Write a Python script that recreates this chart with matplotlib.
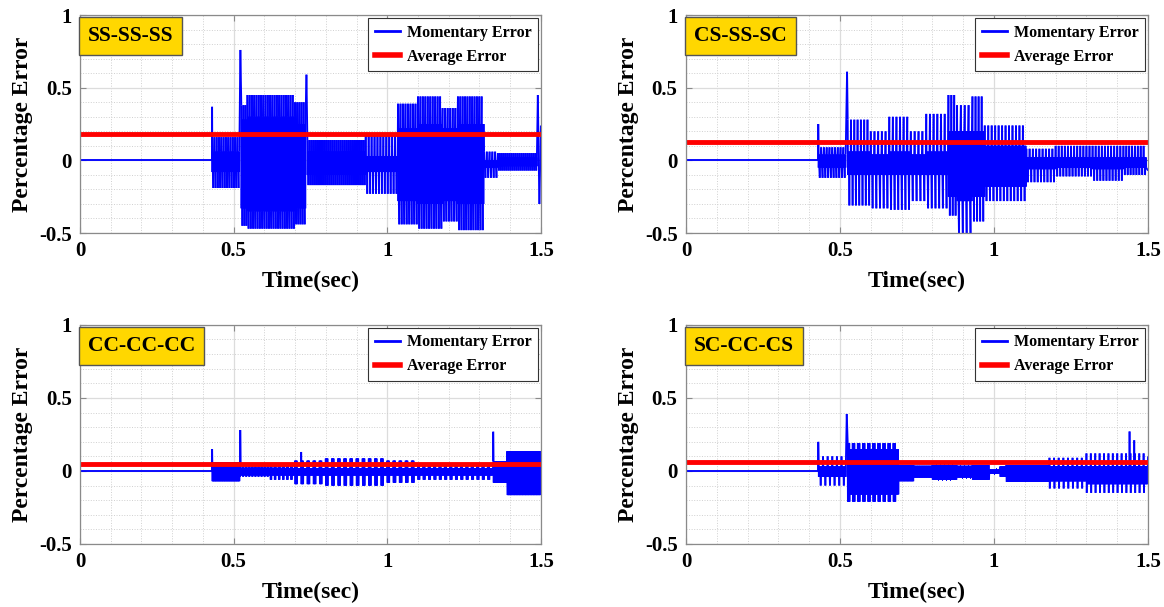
import numpy as np
import matplotlib.pyplot as plt
from matplotlib.ticker import MultipleLocator
from matplotlib.lines import Line2D
from matplotlib.collections import LineCollection

plt.rcParams['font.family'] = ['Liberation Serif', 'DejaVu Serif']
plt.rcParams['font.weight'] = 'bold'

# panel names and average error levels
titles = ['SS-SS-SS', 'CS-SS-SC', 'CC-CC-CC', 'SC-CC-CS']
avg_err = [0.183, 0.128, 0.046, 0.064]
t_start = 0.43   # error is zero before this
FAST = 0.0008    # spacing of the dense ripple, sec

# oscillation segments:
# (t0, t1, visible cycles, peak high, peak low, band high, band low, burst part of a cycle)
seg_ss = [
    (0.430, 0.520, 12, 0.16, -0.19, 0.06, -0.08, 0.0),
    (0.525, 0.545, 3, 0.38, -0.45, 0.28, -0.33, 0.0),
    (0.545, 0.700, 21, 0.45, -0.47, 0.30, -0.35, 0.0),
    (0.700, 0.735, 5, 0.40, -0.44, 0.25, -0.33, 0.0),
    (0.740, 0.930, 30, 0.14, -0.17, 0.06, -0.10, 0.0),
    (0.930, 1.035, 11, 0.18, -0.23, 0.03, -0.08, 0.0),
    (1.035, 1.100, 8, 0.39, -0.44, 0.22, -0.28, 0.0),
    (1.100, 1.180, 10, 0.44, -0.47, 0.25, -0.30, 0.0),
    (1.180, 1.230, 6, 0.36, -0.42, 0.22, -0.28, 0.0),
    (1.230, 1.315, 11, 0.44, -0.48, 0.25, -0.30, 0.0),
    (1.315, 1.360, 5, 0.06, -0.12, 0.00, -0.05, 0.0),
    (1.360, 1.488, 20, 0.05, -0.07, 0.02, -0.04, 0.0),
]
seg_cs = [
    (0.430, 0.520, 10, 0.09, -0.12, 0.04, -0.05, 0.0),
    (0.525, 0.600, 7, 0.28, -0.31, 0.06, -0.10, 0.0),
    (0.600, 0.660, 5, 0.20, -0.33, 0.04, -0.10, 0.0),
    (0.660, 0.730, 6, 0.30, -0.34, 0.06, -0.10, 0.0),
    (0.730, 0.780, 4, 0.20, -0.28, 0.04, -0.10, 0.0),
    (0.780, 0.852, 6, 0.32, -0.33, 0.06, -0.10, 0.0),
    (0.852, 0.880, 3, 0.45, -0.38, 0.20, -0.25, 0.0),
    (0.880, 0.930, 4, 0.38, -0.50, 0.20, -0.28, 0.0),
    (0.930, 0.970, 4, 0.44, -0.42, 0.20, -0.25, 0.0),
    (0.970, 1.105, 12, 0.24, -0.28, 0.10, -0.18, 0.0),
    (1.105, 1.200, 9, 0.08, -0.15, 0.02, -0.06, 0.0),
    (1.200, 1.320, 12, 0.10, -0.11, 0.02, -0.05, 0.0),
    (1.320, 1.420, 10, 0.10, -0.14, 0.02, -0.06, 0.0),
    (1.420, 1.495, 8, 0.10, -0.10, 0.02, -0.05, 0.0),
]
seg_cc = [
    (0.430, 0.520, 6, 0.06, -0.07, 0.06, -0.07, 0.0),
    (0.520, 0.620, 10, 0.03, -0.04, 0.02, -0.03, 0.3),
    (0.620, 0.700, 6, 0.05, -0.06, 0.02, -0.03, 0.3),
    (0.700, 0.800, 5, 0.07, -0.09, 0.02, -0.03, 0.35),
    (0.800, 1.000, 10, 0.085, -0.10, 0.02, -0.03, 0.35),
    (1.000, 1.100, 5, 0.07, -0.08, 0.02, -0.03, 0.35),
    (1.100, 1.345, 14, 0.04, -0.06, 0.02, -0.03, 0.3),
    (1.345, 1.390, 3, 0.065, -0.08, 0.065, -0.08, 0.0),
    (1.390, 1.500, 6, 0.135, -0.165, 0.135, -0.165, 0.0),
]
seg_sc = [
    (0.430, 0.520, 6, 0.10, -0.10, 0.03, -0.04, 0.0),
    (0.525, 0.690, 10, 0.19, -0.21, 0.15, -0.16, 0.4),
    (0.690, 0.740, 4, 0.04, -0.07, 0.04, -0.07, 0.0),
    (0.740, 0.800, 4, 0.035, -0.045, 0.035, -0.045, 0.0),
    (0.800, 0.880, 6, 0.04, -0.06, 0.04, -0.06, 0.0),
    (0.880, 0.930, 4, 0.035, -0.045, 0.035, -0.045, 0.0),
    (0.930, 0.985, 4, 0.04, -0.06, 0.04, -0.06, 0.0),
    (0.985, 1.020, 3, 0.01, -0.02, 0.01, -0.02, 0.0),
    (1.020, 1.040, 2, 0.03, -0.04, 0.03, -0.04, 0.0),
    (1.040, 1.180, 10, 0.04, -0.075, 0.04, -0.075, 0.0),
    (1.180, 1.300, 8, 0.09, -0.12, 0.03, -0.07, 0.15),
    (1.300, 1.500, 14, 0.12, -0.15, 0.03, -0.09, 0.15),
]

# single spikes (time, value)
spk_ss = [(0.430, 0.37), (0.522, 0.76), (0.737, 0.59), (1.490, 0.45), (1.495, -0.30), (1.500, 0.24)]
spk_cs = [(0.430, 0.25), (0.523, 0.61), (1.500, -0.07)]
spk_cc = [(0.430, 0.15), (0.522, 0.28), (0.720, 0.13), (1.345, 0.27)]
spk_sc = [(0.430, 0.20), (0.522, 0.39), (1.440, 0.27), (1.455, 0.21), (1.500, 0.10)]

segments = [seg_ss, seg_cs, seg_cc, seg_sc]
spikes = [spk_ss, spk_cs, spk_cc, spk_sc]


def ripple(pts, ta, tb, hi, lo):
    # dense up/down between hi and lo over [ta, tb)
    n = max(int((tb - ta) / FAST), 1)
    for j in range(n):
        pts.append((ta + j * (tb - ta) / n, hi if j % 2 == 0 else lo))


def build_trace(segs, spks):
    pts = [(0.0, 0.0), (t_start, 0.0)]
    for t0, t1, n, phi, plo, chi, clo, duty in segs:
        dt = (t1 - t0) / n
        for k in range(n):
            tc = t0 + k * dt
            if duty > 0:
                ripple(pts, tc, tc + duty * dt, phi, plo)
                ripple(pts, tc + duty * dt, tc + dt, chi, clo)
            else:
                pts.append((tc, phi))
                ripple(pts, tc + 0.1 * dt, tc + 0.45 * dt, clo, chi)
                pts.append((tc + 0.5 * dt, plo))
                ripple(pts, tc + 0.6 * dt, tc + 0.95 * dt, chi, clo)
    pts += list(spks)
    pts.sort(key=lambda p: p[0])
    return np.array(pts)


fig = plt.figure(figsize=(11.64, 6.07), dpi=100)
positions = [
    [0.0687, 0.6161, 0.396, 0.359],
    [0.5893, 0.6161, 0.397, 0.359],
    [0.0687, 0.1038, 0.396, 0.361],
    [0.5893, 0.1038, 0.397, 0.361],
]

handles = [Line2D([], [], color='#0000ff', lw=2.0),
           Line2D([], [], color='#ff0000', lw=4.0)]

for i in range(4):
    ax = fig.add_axes(positions[i])
    trace = build_trace(segments[i], spikes[i])
    # separate pieces so dense back-and-forth strokes stay solid
    pieces = np.stack([trace[:-1], trace[1:]], axis=1)
    ax.add_collection(LineCollection(pieces, colors='#0000ff', linewidths=1.35))
    ax.axhline(avg_err[i], color='#ff0000', lw=3.5)

    ax.set_xlim(0, 1.5)
    ax.set_ylim(-0.5, 1)
    ax.set_xticks([0, 0.5, 1, 1.5])
    ax.set_xticklabels(['0', '0.5', '1', '1.5'])
    ax.set_yticks([-0.5, 0, 0.5, 1])
    ax.set_yticklabels(['-0.5', '0', '0.5', '1'])
    ax.xaxis.set_minor_locator(MultipleLocator(0.1))
    ax.yaxis.set_minor_locator(MultipleLocator(0.1))
    ax.grid(True, which='major', color='#dcdcdc', lw=0.9)
    ax.grid(True, which='minor', color='#d0d0d0', lw=0.7, ls=':')
    ax.set_axisbelow(True)
    ax.tick_params(which='both', direction='in', colors='#8a8a8a', labelcolor='black',
                   labelsize=15, top=True, right=True, pad=6)
    ax.tick_params(which='major', length=4)
    ax.tick_params(which='minor', length=0)
    for sp in ax.spines.values():
        sp.set_color('#8a8a8a')
        sp.set_linewidth(0.9)

    ax.set_xlabel('Time(sec)', fontsize=17, fontweight='bold', labelpad=7)
    ax.set_ylabel('Percentage Error', fontsize=17, fontweight='bold', labelpad=4)

    ax.text(0.017, 0.95, titles[i], transform=ax.transAxes, fontsize=15.5, fontweight='bold',
            va='top', ha='left',
            bbox=dict(boxstyle='square,pad=0.42', fc='#ffd700', ec='#555555', lw=1))

    leg = ax.legend(handles, ['Momentary Error', 'Average Error'], loc='upper right',
                    fontsize=11.5, frameon=True, fancybox=False, framealpha=1,
                    edgecolor='#333333', handlelength=1.6, handletextpad=0.4,
                    borderaxespad=0.2, borderpad=0.4, labelspacing=0.5)
    leg.get_frame().set_linewidth(0.8)

fig.savefig('out.png', dpi=100)
